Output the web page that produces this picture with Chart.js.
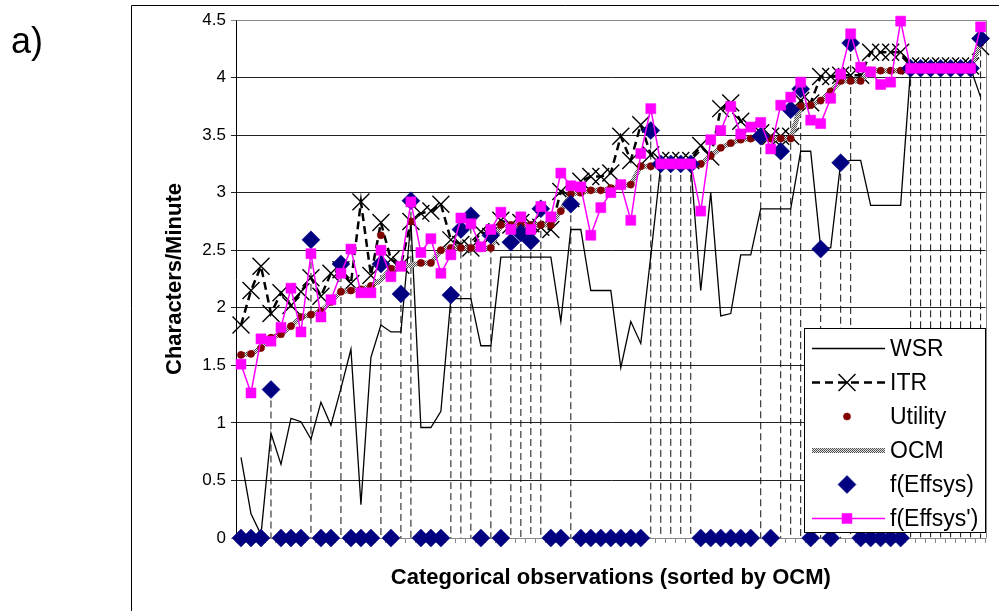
<!DOCTYPE html>
<html>
<head>
<meta charset="utf-8">
<script src="https://cdn.jsdelivr.net/npm/chart.js@4/dist/chart.umd.min.js"></script>
<style>
  html, body { margin: 0; padding: 0; background: #fff; }
  canvas { display: block; }
</style>
</head>
<body>
<canvas id="c" width="999" height="611"></canvas>
<script>
// Observations 1..75, sorted by OCM score
const observations = [
  '1','2','3','4','5','6','7','8','9','10','11','12','13','14','15',
  '16','17','18','19','20','21','22','23','24','25','26','27','28','29','30',
  '31','32','33','34','35','36','37','38','39','40','41','42','43','44','45',
  '46','47','48','49','50','51','52','53','54','55','56','57','58','59','60',
  '61','62','63','64','65','66','67','68','69','70','71','72','73','74','75'
];

const wsr = [
  0.70, 0.21, 0.03, 0.91, 0.64, 1.04, 1.01, 0.86, 1.18, 0.98,
  1.30, 1.64, 0.29, 1.57, 1.85, 1.79, 1.79, 2.75, 0.96, 0.96,
  1.10, 2.08, 2.08, 2.08, 1.67, 1.67, 2.44, 2.44, 2.44, 2.44,
  2.44, 2.44, 1.88, 2.68, 2.68, 2.15, 2.15, 2.15, 1.48, 1.88,
  1.69, 2.45, 3.24, 3.24, 3.24, 3.24, 2.15, 3.00, 1.93, 1.95,
  2.46, 2.46, 2.86, 2.86, 2.86, 2.86, 3.36, 3.36, 2.52, 2.52,
  3.26, 3.28, 3.28, 2.89, 2.89, 2.89, 2.89, 4.08, 4.08, 4.08,
  4.08, 4.08, 4.08, 4.08, 3.83
];

const itr = [
  1.85, 2.15, 2.36, 1.95, 2.13, 2.02, 2.14, 2.26, 2.10, 2.30,
  2.33, 2.21, 2.92, 2.28, 2.74, 2.42, 2.37, 2.75, 2.82, 2.84,
  2.90, 2.59, 2.55, 2.52, 2.66, 2.62, 2.76, 2.72, 2.74, 2.73,
  2.70, 2.68, 3.01, 2.95, 3.10, 3.14, 3.14, 3.17, 3.49, 3.28,
  3.59, 3.33, 3.28, 3.28, 3.28, 3.28, 3.41, 3.31, 3.73, 3.78,
  3.62, 3.57, 3.52, 3.49, 3.49, 3.49, 3.80, 3.78, 4.01, 4.01,
  4.02, 4.02, 4.02, 4.22, 4.22, 4.22, 4.22, 4.10, 4.10, 4.10,
  4.10, 4.10, 4.10, 4.10, 4.27
];

const utility = [
  1.59, 1.60, 1.65, 1.74, 1.77, 1.84, 1.92, 1.94, 1.97, 2.05,
  2.14, 2.15, 2.16, 2.19, 2.63, 2.34, 2.36, 2.75, 2.39, 2.39,
  2.50, 2.52, 2.52, 2.52, 2.52, 2.52, 2.72, 2.72, 2.72, 2.72,
  2.72, 2.72, 2.84, 2.99, 3.00, 3.02, 3.02, 3.04, 3.06, 3.07,
  3.23, 3.23, 3.25, 3.25, 3.25, 3.25, 3.25, 3.32, 3.39, 3.43,
  3.46, 3.47, 3.47, 3.47, 3.47, 3.47, 3.75, 3.76, 3.80, 3.88,
  3.97, 3.97, 3.97, 4.06, 4.06, 4.06, 4.06, 4.08, 4.08, 4.08,
  4.08, 4.08, 4.08, 4.08, 4.30
];

const ocm = [
  1.59, 1.60, 1.65, 1.74, 1.77, 1.84, 1.92, 1.94, 1.97, 2.05,
  2.14, 2.15, 2.16, 2.19, 2.24, 2.34, 2.36, 2.37, 2.39, 2.39,
  2.50, 2.52, 2.52, 2.52, 2.52, 2.52, 2.72, 2.72, 2.72, 2.72,
  2.72, 2.72, 2.84, 2.99, 3.00, 3.02, 3.02, 3.04, 3.06, 3.07,
  3.23, 3.23, 3.25, 3.25, 3.25, 3.25, 3.25, 3.32, 3.39, 3.43,
  3.46, 3.47, 3.47, 3.47, 3.47, 3.47, 3.75, 3.76, 3.80, 3.88,
  3.97, 3.97, 3.97, 4.06, 4.06, 4.06, 4.06, 4.08, 4.08, 4.08,
  4.08, 4.08, 4.08, 4.08, 4.30
];

const effsys = [
  0, 0, 0, 1.29, 0, 0, 0, 2.59, 0, 0,
  2.38, 0, 0, 0, 2.38, 0, 2.12, 2.93, 0, 0,
  0, 2.11, 2.68, 2.80, 0, 2.63, 0, 2.57, 2.65, 2.58,
  2.86, 0, 0, 2.90, 0, 0, 0, 0, 0, 0,
  0, 3.54, 3.25, 3.25, 3.25, 3.25, 0, 0, 0, 0,
  0, 0, 3.49, 0, 3.36, 3.72, 3.90, 0, 2.51, 0,
  3.26, 4.30, 0, 0, 0, 0, 0, 4.08, 4.08, 4.08,
  4.08, 4.08, 4.08, 4.08, 4.34
];

const effsysPrime = [
  1.51, 1.26, 1.73, 1.71, 1.83, 2.17, 1.79, 2.47, 1.92, 2.07,
  2.30, 2.51, 2.13, 2.13, 2.50, 2.27, 2.36, 2.92, 2.48, 2.60,
  2.30, 2.46, 2.78, 2.73, 2.53, 2.68, 2.83, 2.68, 2.79, 2.68,
  2.88, 2.79, 3.17, 3.06, 3.05, 2.63, 2.87, 3.00, 3.07, 2.76,
  3.34, 3.73, 3.25, 3.25, 3.25, 3.25, 2.84, 3.46, 3.54, 3.75,
  3.51, 3.57, 3.61, 3.38, 3.76, 3.83, 3.96, 3.63, 3.60, 3.82,
  4.03, 4.38, 4.09, 4.05, 3.94, 3.96, 4.49, 4.08, 4.08, 4.08,
  4.08, 4.08, 4.08, 4.08, 4.44
];

const yTicks = { min: 0, max: 4.5, step: 0.5 };

Chart.defaults.font.family = "'Liberation Sans', Arial, sans-serif";
Chart.defaults.color = '#000';

const canvas = document.getElementById('c');
const mainCtx = canvas.getContext('2d');

// hatched grey stroke for the OCM band
function checkerPattern() {
  const t = document.createElement('canvas');
  t.width = 2; t.height = 2;
  const g = t.getContext('2d');
  g.fillStyle = '#e6e6e6'; g.fillRect(0, 0, 2, 2);
  g.fillStyle = '#4d4d4d'; g.fillRect(0, 0, 1, 1); g.fillRect(1, 1, 1, 1);
  return mainCtx.createPattern(t, 'repeat');
}
const ocmStroke = checkerPattern();

// outer frame and panel letter
const framePlugin = {
  id: 'frame',
  beforeDraw(chart) {
    const ctx = chart.ctx;
    ctx.save();
    ctx.fillStyle = '#fff';
    ctx.fillRect(0, 0, chart.width, chart.height);
    ctx.strokeStyle = '#000';
    ctx.lineWidth = 1;
    ctx.beginPath();
    ctx.moveTo(131.5, chart.height);
    ctx.lineTo(131.5, 5.5);
    ctx.lineTo(chart.width, 5.5);
    ctx.stroke();
    ctx.fillStyle = '#000';
    ctx.font = "36px 'Liberation Sans', Arial, sans-serif";
    ctx.textBaseline = 'alphabetic';
    ctx.textAlign = 'left';
    ctx.fillText('a)', 11, 53);
    ctx.restore();
  }
};

// plot-area outline and the dashed drop lines under f(Effsys)
const dropPlugin = {
  id: 'drops',
  beforeDatasetsDraw(chart) {
    const { ctx, chartArea: a } = chart;
    const xs = chart.scales.x, ys = chart.scales.y;
    ctx.save();
    ctx.strokeStyle = '#888';
    ctx.lineWidth = 1;
    ctx.beginPath();
    ctx.moveTo(Math.round(a.left) + 0.5, Math.round(a.top) + 0.5);
    ctx.lineTo(Math.round(a.right) + 0.5, Math.round(a.top) + 0.5);
    ctx.lineTo(Math.round(a.right) + 0.5, Math.round(a.bottom) + 0.5);
    ctx.stroke();
    ctx.strokeStyle = '#111';
    ctx.setLineDash([7, 4]);
    effsys.forEach((v, i) => {
      if (v > 0) {
        const px = xs.getPixelForValue(i);
        ctx.beginPath();
        ctx.moveTo(px, ys.getPixelForValue(v));
        ctx.lineTo(px, ys.getPixelForValue(0));
        ctx.stroke();
      }
    });
    ctx.restore();
  }
};

// boxed legend inside the plot, lower right
const legendPlugin = {
  id: 'boxLegend',
  afterDraw(chart) {
    const ctx = chart.ctx;
    const L = 804.5, T = 328.5, W = 181, H = 204;
    ctx.save();
    ctx.fillStyle = '#fff';
    ctx.fillRect(L, T, W, H);
    ctx.strokeStyle = '#000';
    ctx.lineWidth = 1;
    ctx.strokeRect(L, T, W, H);
    chart.data.datasets.forEach((ds, k) => {
      const yy = 348.5 + k * 34;
      if (ds.showLine !== false) {
        ctx.save();
        ctx.strokeStyle = ds.borderColor;
        ctx.lineWidth = ds.borderWidth;
        ctx.setLineDash(ds.borderDash || []);
        ctx.beginPath();
        ctx.moveTo(812, yy);
        ctx.lineTo(885, yy);
        ctx.stroke();
        ctx.restore();
      }
      if (ds.pointRadius > 0) {
        ctx.save();
        ctx.setLineDash([]);
        ctx.fillStyle = ds.pointBackgroundColor;
        ctx.strokeStyle = ds.pointBorderColor;
        ctx.lineWidth = ds.pointBorderWidth;
        Chart.helpers.drawPoint(ctx, {
          pointStyle: ds.pointStyle, radius: ds.pointRadius,
          borderWidth: ds.pointBorderWidth, rotation: 0
        }, 847, yy);
        ctx.restore();
      }
      ctx.fillStyle = '#000';
      ctx.font = "23px 'Liberation Sans', Arial, sans-serif";
      ctx.textBaseline = 'middle';
      ctx.textAlign = 'left';
      ctx.fillText(ds.label, 890, yy + 1);
    });
    ctx.restore();
  }
};

new Chart(canvas, {
  type: 'line',
  data: {
    labels: observations,
    datasets: [
      {
        label: 'WSR', data: wsr, order: 6, clip: false,
        borderColor: '#000', borderWidth: 1.3, pointRadius: 0
      },
      {
        label: 'ITR', data: itr, order: 5, clip: false,
        borderColor: '#000', borderWidth: 2.5, borderDash: [8, 5],
        pointStyle: 'crossRot', pointRadius: 12, pointBorderWidth: 1.4,
        pointBorderColor: '#000', pointBackgroundColor: '#000'
      },
      {
        label: 'Utility', data: utility, order: 3, showLine: false, clip: false,
        pointStyle: 'circle', pointRadius: 3.6, pointBorderWidth: 0.5,
        pointBackgroundColor: '#800000', pointBorderColor: '#800000'
      },
      {
        label: 'OCM', data: ocm, order: 4, clip: false,
        borderColor: ocmStroke, borderWidth: 5, pointRadius: 0
      },
      {
        label: 'f(Effsys)', data: effsys, order: 2, showLine: false, clip: false,
        pointStyle: 'rectRot', pointRadius: 9, pointBorderWidth: 0.5,
        pointBackgroundColor: '#000080', pointBorderColor: '#000080'
      },
      {
        label: "f(Effsys')", data: effsysPrime, order: 1, clip: false,
        borderColor: '#ff00ff', borderWidth: 1.5,
        pointStyle: 'rect', pointRadius: 7.1, pointBorderWidth: 0.5,
        pointBackgroundColor: '#ff00ff', pointBorderColor: '#ff00ff'
      }
    ]
  },
  options: {
    responsive: false,
    devicePixelRatio: 1,
    animation: false,
    events: [],
    elements: { line: { tension: 0 } },
    layout: { padding: { left: 0, top: 20, right: 13, bottom: 0 } },
    plugins: { legend: { display: false }, tooltip: { enabled: false } },
    scales: {
      x: {
        type: 'category',
        offset: true,
        ticks: { display: false, autoSkip: false },
        grid: { offset: true, drawOnChartArea: false, drawTicks: true, tickLength: 5, color: '#888' },
        border: { color: '#888', width: 1 },
        title: {
          display: true, text: 'Categorical observations (sorted by OCM)', color: '#000',
          font: { size: 22, weight: 'bold' }, padding: { top: 0, bottom: 20 }
        },
        afterFit(s) { s.height = 73; }
      },
      y: {
        min: yTicks.min, max: yTicks.max,
        ticks: {
          stepSize: yTicks.step, color: '#000', font: { size: 17 }, padding: 5,
          callback: v => String(v)
        },
        grid: {
          color: c => (c.tick && (c.tick.value === yTicks.max || c.tick.value === yTicks.min)) ? '#888' : '#222',
          tickLength: 5, lineWidth: 1
        },
        border: { color: '#000', width: 1 },
        title: {
          display: true, text: 'Characters/Minute', color: '#000',
          font: { size: 22, weight: 'bold' }, padding: { top: 162, bottom: 0 }
        },
        afterFit(s) { s.width = 236; }
      }
    }
  },
  plugins: [framePlugin, dropPlugin, legendPlugin]
});
</script>
</body>
</html>
